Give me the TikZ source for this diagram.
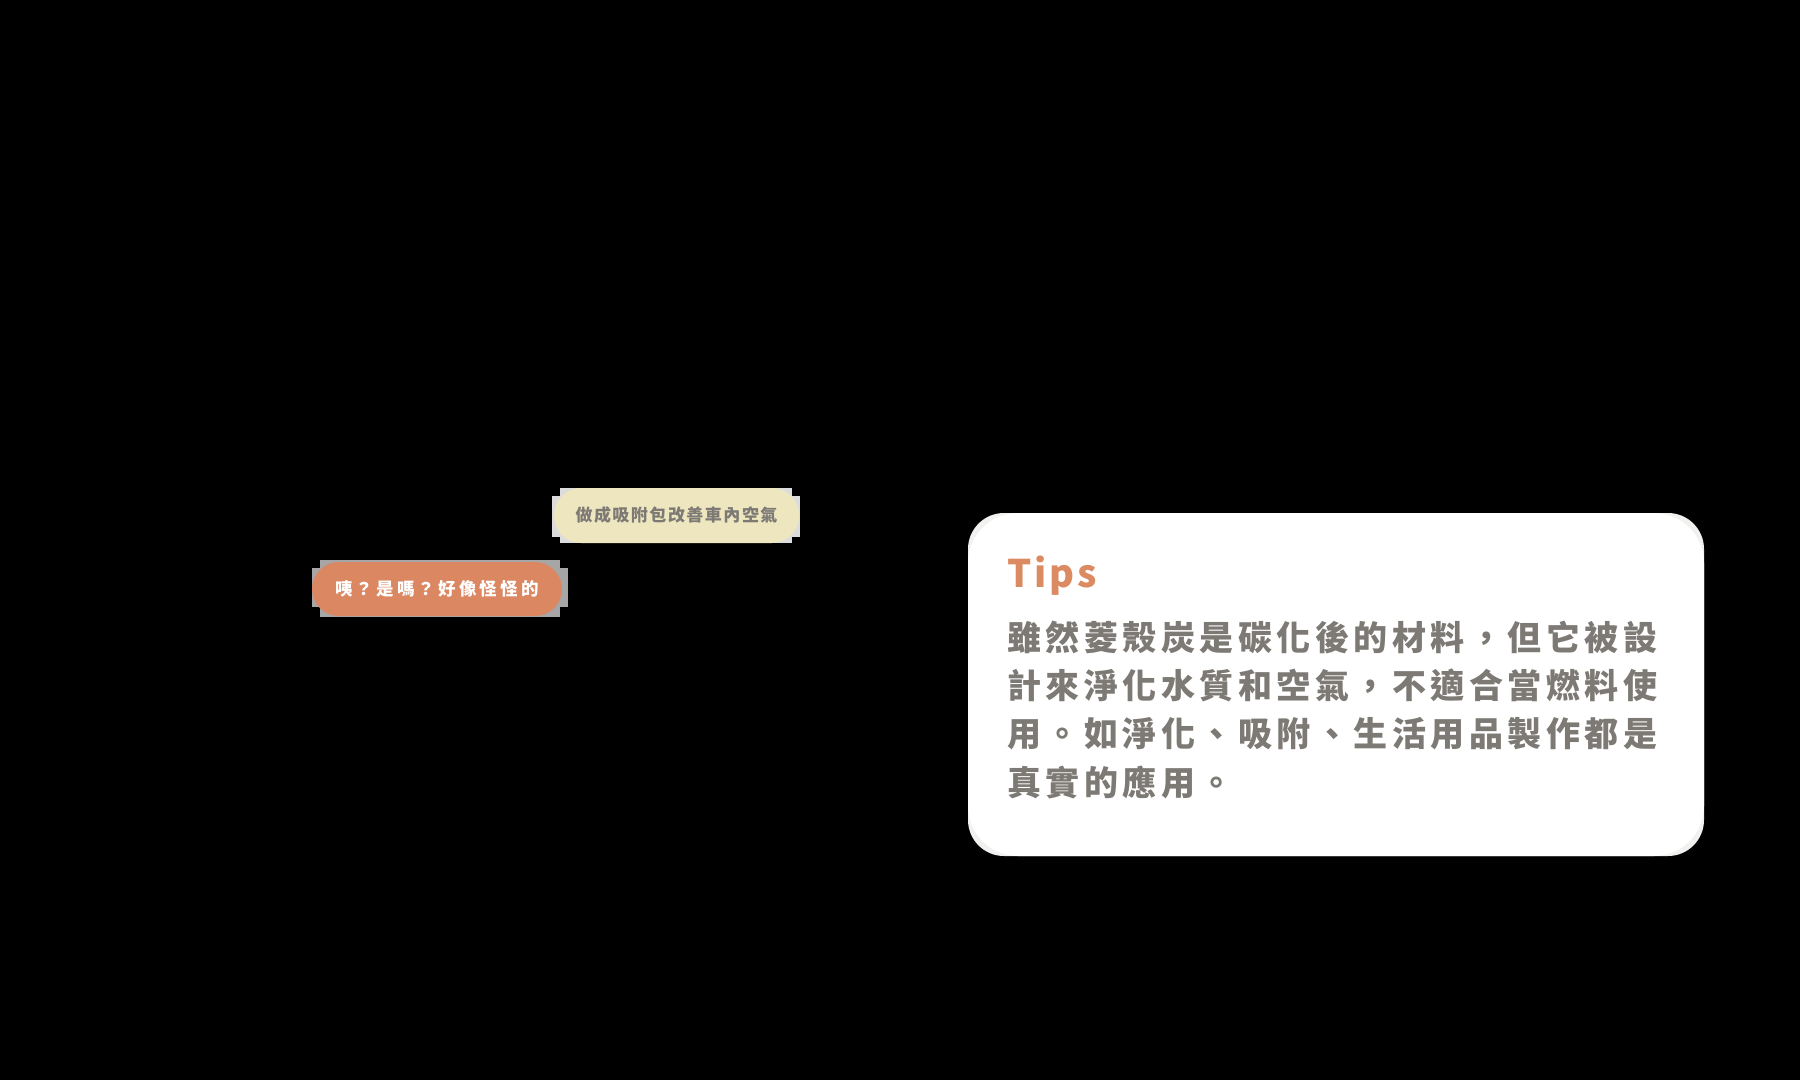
\documentclass[tikz,border=0pt]{standalone}
\usepackage{fontspec}
\newfontfamily\cjk{Noto Sans CJK TC}
\makeatletter
\newcommand\spaced[2]{\@tfor\sp@c:=#2\do{\sp@c\kern#1}\kern-#1}
\makeatother
\definecolor{pillyellow}{HTML}{EDE6BF}
\definecolor{pillorange}{HTML}{DA8762}
\definecolor{textgray}{HTML}{7D7974}
\definecolor{tipsorange}{HTML}{DC8A62}
\definecolor{shadelight}{HTML}{DCDCDC}
\definecolor{shadedark}{HTML}{A6A6A6}
\definecolor{boxshade}{HTML}{F1F1EF}
\tikzset{
  pill/.style={rounded corners=27pt, minimum width=246pt, minimum height=55pt, inner sep=0pt, font=\cjk\bfseries\fontsize{17}{20}\selectfont},
  bodyline/.style={anchor=base west, inner sep=0pt, text=textgray, font=\cjk\bfseries\fontsize{34}{40}\selectfont},
}
\begin{document}
\begin{tikzpicture}[x=1pt,y=-1pt]
\fill[black] (0,0) rectangle (1800,1080);
\useasboundingbox (0,0) rectangle (1800,1080);
% pill 1 underlay
\fill[shadelight] (552,496) rectangle (800,537);
\fill[shadelight] (560,488) rectangle (792,543);
\node[pill, fill=pillyellow, text=textgray, minimum width=245pt, minimum height=55pt] (p1) at (676.5,515.5) {\spaced{1.5pt}{做成吸附包改善車內空氣}};
% pill 2 underlay
\fill[shadedark] (312,568) rectangle (568,607);
\fill[shadedark] (320,560) rectangle (560,617);
\node[pill, fill=pillorange, text=white, minimum width=250pt, minimum height=54pt, font=\cjk\bfseries\fontsize{17.5}{20}\selectfont] (p2) at (437,589) {\spaced{3.2pt}{咦？是嗎？好像怪怪的}};
% tips box
\fill[boxshade, rounded corners=36pt] (968,513) rectangle (1704,856);
\node[fill=white, rounded corners=50pt, minimum width=736pt, minimum height=343pt, inner sep=0pt] (tips) at (1336,684.5) {};
\node[anchor=base west, inner sep=0pt, text=tipsorange, font=\cjk\bfseries\fontsize{38}{44}\selectfont] (tt) at (1007,587) {\spaced{3pt}{Tips}};
\node[bodyline] (l1) at (1007,650) {\spaced{4.5pt}{雖然菱殼炭是碳化後的材料，但它被設}};
\node[bodyline] (l2) at (1007,698) {\spaced{4.5pt}{計來淨化水質和空氣，不適合當燃料使}};
\node[bodyline] (l3) at (1007,746) {\spaced{4.5pt}{用。如淨化、吸附、生活用品製作都是}};
\node[bodyline] (l4) at (1007,795) {\spaced{4.5pt}{真實的應用。}};
\end{tikzpicture}
\end{document}
